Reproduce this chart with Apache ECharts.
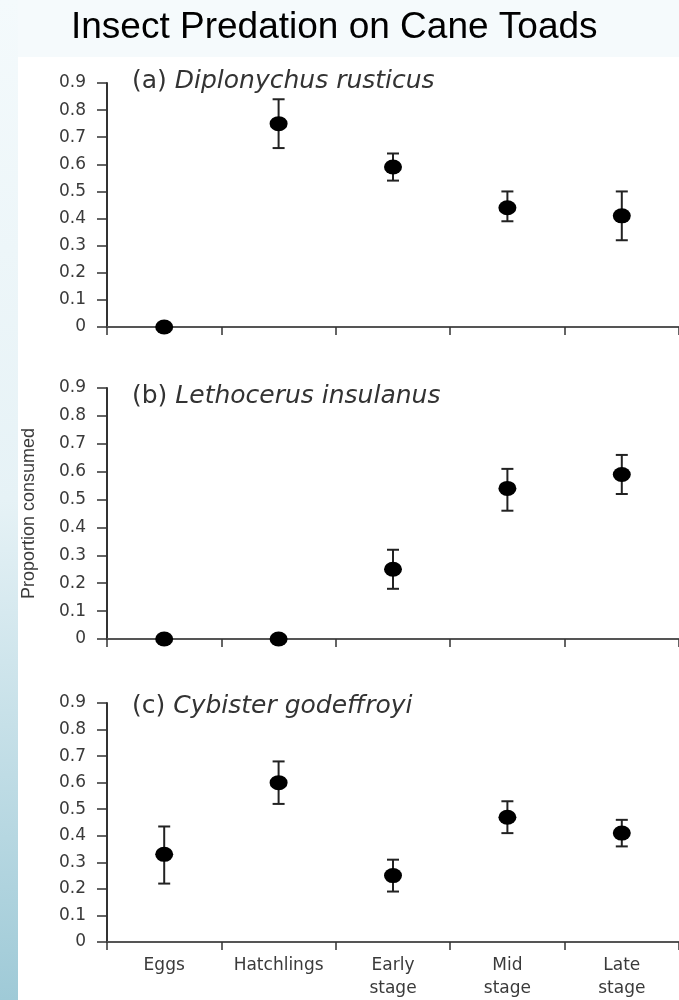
<!DOCTYPE html>
<html>
<head>
<meta charset="utf-8">
<script src="https://cdn.jsdelivr.net/npm/echarts@6/dist/echarts.min.js"></script>
<style>
html,body{margin:0;padding:0;background:#f5fafc;}
#chart{width:679px;height:1000px;}
</style>
</head>
<body>
<div id="chart"></div>
<script>
const chartTitle = 'Insect Predation on Cane Toads';
const categories = ['Eggs', 'Hatchlings', 'Early\nstage', 'Mid\nstage', 'Late\nstage'];
const yAxisName = 'Proportion consumed';
const yMin = 0, yMax = 0.9, yInterval = 0.1;

const panelLabels = ['(a) ', '(b) ', '(c) '];
const panelSpecies = ['Diplonychus rusticus', 'Lethocerus insulanus', 'Cybister godeffroyi'];

const meanA = [0, 0.75, 0.59, 0.44, 0.41];
const lowA  = [null, 0.66, 0.54, 0.39, 0.32];
const highA = [null, 0.84, 0.64, 0.50, 0.50];

const meanB = [0, 0, 0.25, 0.54, 0.59];
const lowB  = [null, null, 0.18, 0.46, 0.52];
const highB = [null, null, 0.32, 0.61, 0.66];

const meanC = [0.33, 0.60, 0.25, 0.47, 0.41];
const lowC  = [0.22, 0.52, 0.19, 0.41, 0.36];
const highC = [0.435, 0.68, 0.31, 0.53, 0.46];

const means = [meanA, meanB, meanC];
const lows = [lowA, lowB, lowC];
const highs = [highA, highB, highC];

const grids = [
  {left: 107, right: 0, top: 83, height: 244},
  {left: 107, right: 0, top: 388, height: 251},
  {left: 107, right: 0, top: 703, height: 246}
];
const titleTops = [64, 379, 689];

const axisColor = '#333';
const textColor = '#3a3a3a';
const tickFont = 'DejaVu Sans';

const chart = echarts.init(document.getElementById('chart'), null, {renderer: 'canvas'});

function errorRender(params, api) {
  const x = api.value(0);
  const lo = api.coord([x, api.value(1)]);
  const hi = api.coord([x, api.value(2)]);
  const hw = 6;
  const st = {stroke: '#222', lineWidth: 2};
  return {
    type: 'group',
    children: [
      {type: 'line', shape: {x1: lo[0], y1: lo[1], x2: hi[0], y2: hi[1]}, style: st},
      {type: 'line', shape: {x1: lo[0] - hw, y1: lo[1], x2: lo[0] + hw, y2: lo[1]}, style: st},
      {type: 'line', shape: {x1: hi[0] - hw, y1: hi[1], x2: hi[0] + hw, y2: hi[1]}, style: st}
    ]
  };
}

const xAxes = [], yAxes = [], series = [], titles = [];
titles.push({
  text: chartTitle,
  left: 66, top: 4,
  textStyle: {fontFamily: 'Liberation Sans', fontSize: 37, fontWeight: 'normal', color: '#000'}
});

for (let i = 0; i < 3; i++) {
  titles.push({
    text: '{n|' + panelLabels[i] + '}{s|' + panelSpecies[i] + '}',
    left: 127, top: titleTops[i],
    textStyle: {
      fontWeight: 'normal',
      rich: {
        n: {fontFamily: 'DejaVu Sans', fontWeight: 'normal', fontSize: 25, color: '#333'},
        s: {fontFamily: 'DejaVu Sans', fontWeight: 'normal', fontStyle: 'italic', fontSize: 25, color: '#333'}
      }
    }
  });
  xAxes.push({
    type: 'category', gridIndex: i, data: categories, boundaryGap: true,
    axisLine: {show: true, onZero: false, lineStyle: {color: '#555', width: 2}},
    axisTick: {show: true, alignWithLabel: false, length: 8, inside: false, lineStyle: {color: axisColor, width: 1.5}},
    axisLabel: {
      show: i === 2, margin: 12, fontFamily: tickFont, fontSize: 17, color: textColor, lineHeight: 23, interval: 0
    },
    splitLine: {show: false}
  });
  yAxes.push({
    type: 'value', gridIndex: i, min: yMin, max: yMax, interval: yInterval,
    name: i === 1 ? yAxisName : '',
    nameLocation: 'middle', nameGap: 69,
    nameTextStyle: {fontFamily: 'Liberation Sans', fontSize: 18, color: textColor},
    axisLine: {show: true, lineStyle: {color: axisColor, width: 2}},
    axisTick: {show: true, length: 10, inside: false, lineStyle: {color: axisColor, width: 1.5}},
    axisLabel: {margin: 21, fontFamily: tickFont, fontSize: 17, color: textColor},
    splitLine: {show: false}
  });
  const errData = [];
  for (let k = 0; k < categories.length; k++) {
    if (lows[i][k] !== null && highs[i][k] !== null) errData.push([k, lows[i][k], highs[i][k]]);
  }
  series.push({
    type: 'custom', xAxisIndex: i, yAxisIndex: i, renderItem: errorRender,
    data: errData, z: 3, silent: true, clip: false
  });
  series.push({
    type: 'scatter', xAxisIndex: i, yAxisIndex: i,
    data: means[i].map((v, k) => [k, v]),
    symbol: 'circle', symbolSize: [18, 15],
    itemStyle: {color: '#000', opacity: 1}, z: 5, clip: false, silent: true
  });
}

chart.setOption({
  backgroundColor: '#f5fafc',
  animation: false,
  graphic: [
    {type: 'rect', z: -10, silent: true, shape: {x: 0, y: 0, width: 18, height: 1000},
     style: {fill: new echarts.graphic.LinearGradient(0, 0, 0, 1, [
       {offset: 0, color: '#f4fafc'}, {offset: 0.5, color: '#e6f2f6'}, {offset: 1, color: '#9fcad7'}
     ])}},
    {type: 'rect', z: -9, silent: true, shape: {x: 18, y: 57, width: 661, height: 943}, style: {fill: '#ffffff'}}
  ],
  title: titles,
  grid: grids,
  xAxis: xAxes,
  yAxis: yAxes,
  series: series
});
</script>
</body>
</html>
